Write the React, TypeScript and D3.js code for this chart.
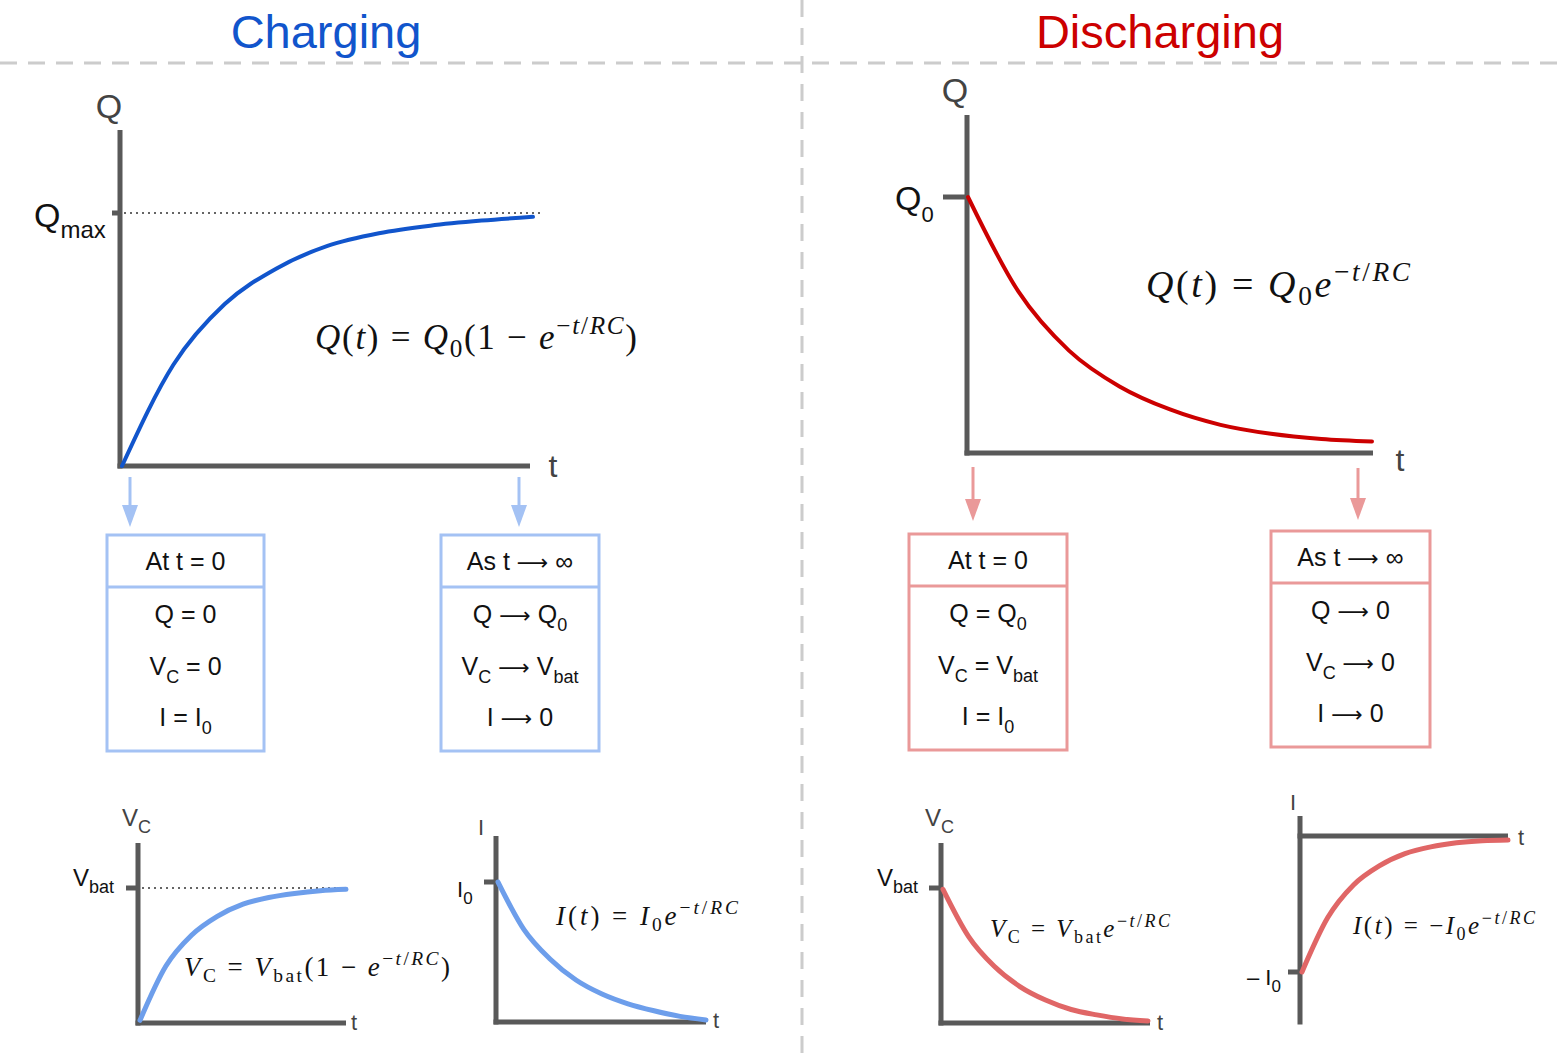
import * as d3 from 'd3';

// sample positions along each t axis (fraction of the drawn curve)
const tSteps = [0, 0.125, 0.25, 0.375, 0.5, 0.625, 0.75, 0.875, 1];

// values, normalised to the tick level
const chargeMain = [0, 0.40, 0.64, 0.78, 0.87, 0.92, 0.95, 0.97, 0.985];
const dischargeMain = [1, 0.63, 0.40, 0.26, 0.17, 0.11, 0.075, 0.055, 0.045];
const chargeVc = [0.02, 0.42, 0.65, 0.79, 0.88, 0.93, 0.96, 0.98, 0.99];
const chargeI = [1, 0.66, 0.45, 0.30, 0.20, 0.13, 0.08, 0.04, 0.015];
const dischargeVc = [0.99, 0.64, 0.42, 0.27, 0.17, 0.10, 0.06, 0.03, 0.015];
const dischargeI = [-1, -0.60, -0.36, -0.22, -0.13, -0.08, -0.05, -0.035, -0.03];

const boxTitles = ['At t = 0', 'As t \u2192 \u221e'];
const SANS = 'Liberation Sans, Arial, sans-serif';
const SERIF = 'Liberation Serif, Times New Roman, serif';
const AXIS = '#595959';
const ARROW = '\u27f6';

type Seg = [string, string?]; // text, flags: i italic, b sub, p sup

function Formula({ x, y, size, segs, w }: { x: number; y: number; size: number; segs: Seg[]; w: number }) {
  let level = 0;
  const small = size * 0.72;
  return (
    <text x={x} y={y} fontFamily={SERIF} fontSize={size} fill="#111" textLength={w} lengthAdjust="spacing">
      {segs.map(([t, f = ''], i) => {
        const want = f.includes('b') ? size * 0.22 : f.includes('p') ? -size * 0.42 : 0;
        const dy = want - level;
        level = want;
        return (
          <tspan key={i} dy={dy} fontStyle={f.includes('i') ? 'italic' : 'normal'}
            fontSize={f.includes('b') || f.includes('p') ? small : size}>{t}</tspan>
        );
      })}
    </text>
  );
}

// label with subscript, e.g. V_C
function SubLabel({ x, y, main, sub, size, subSize, fill = '#111', dy = 0.3 }:
  { x: number; y: number; main: string; sub?: string; size: number; subSize?: number; fill?: string; dy?: number }) {
  return (
    <text x={x} y={y} fontFamily={SANS} fontSize={size} fill={fill}>
      <tspan>{main}</tspan>
      {sub && <tspan fontSize={subSize ?? size * 0.7} dy={size * dy}>{sub}</tspan>}
    </text>
  );
}

interface ChartProps {
  ox: number; oy: number; top: number; right: number; axisY: number;
  levelY: number; zeroY: number; tickX: number; curveX0: number; curveX1: number;
  values: number[]; color: string; width: number; lo: number; hi: number;
  dotted?: boolean; dotEnd?: number; axisW: number;
}

function Chart(p: ChartProps) {
  const x = d3.scaleLinear().domain([0, 1]).range([p.curveX0, p.curveX1]);
  const y = d3.scaleLinear().domain([p.lo, p.hi]).range(p.lo < 0 ? [p.levelY, p.zeroY] : [p.zeroY, p.levelY]);
  const line = d3.line<number>().x((_, i) => x(tSteps[i])).y(d => y(d)).curve(d3.curveMonotoneX);
  const levelVal = p.lo < 0 ? -1 : 1;
  return (
    <g>
      {p.dotted && (
        <line x1={p.ox + 4} x2={p.dotEnd} y1={y(levelVal)} y2={y(levelVal)} stroke="#333" strokeWidth={1.3} strokeDasharray="2 4" />
      )}
      <line x1={p.ox} x2={p.ox} y1={p.top} y2={p.oy + p.axisW / 2} stroke={AXIS} strokeWidth={p.axisW} />
      <line x1={p.ox - p.axisW / 2} x2={p.right} y1={p.axisY} y2={p.axisY} stroke={AXIS} strokeWidth={p.axisW} />
      <line x1={p.tickX} x2={p.ox} y1={y(levelVal)} y2={y(levelVal)} stroke={AXIS} strokeWidth={p.axisW} />
      <path d={line(p.values) ?? ''} fill="none" stroke={p.color} strokeWidth={p.width} strokeLinecap="round" />
    </g>
  );
}

function Arrow({ x, y0, y1, color }: { x: number; y0: number; y1: number; color: string }) {
  const head = 22;
  return (
    <g>
      <line x1={x} x2={x} y1={y0} y2={y1 - head + 2} stroke={color} strokeWidth={3} />
      <path d={`M${x - 8},${y1 - head} L${x + 8},${y1 - head} L${x},${y1} Z`} fill={color} />
    </g>
  );
}

// splits a string so the arrow glyph gets a thin math-style font
function withArrows(s: string) {
  return s.split(ARROW).flatMap((part, i) =>
    i === 0 ? [<tspan key={`p${i}`}>{part}</tspan>]
      : [<tspan key={`a${i}`} fontFamily="DejaVu Sans" fontSize={22}>{ARROW}</tspan>, <tspan key={`p${i}`}>{part}</tspan>]);
}

function Box({ x, y, w, h, div, color, title, lines }: {
  x: number; y: number; w: number; h: number; div: number; color: string; title: string;
  lines: { main: string; sub?: string; rest?: string; sub2?: string }[];
}) {
  const cx = x + w / 2;
  return (
    <g>
      <rect x={x} y={y} width={w} height={h} fill="none" stroke={color} strokeWidth={3} />
      <line x1={x} x2={x + w} y1={y + div} y2={y + div} stroke={color} strokeWidth={3} />
      <text x={cx} y={y + div / 2 + 9} textAnchor="middle" fontFamily={SANS} fontSize={25} fill="#111">
        {withArrows(title.replace('\u2192', ARROW))}
      </text>
      {lines.map((l, i) => (
        <text key={i} x={cx} y={y + div + 36 + i * 51.5} textAnchor="middle" fontFamily={SANS} fontSize={25} fill="#111">
          {withArrows(l.main)}
          {l.sub && <tspan fontSize={18} dy={8}>{l.sub}</tspan>}
          {l.rest && <tspan dy={l.sub ? -8 : 0}>{withArrows(l.rest)}</tspan>}
          {l.sub2 && <tspan fontSize={18} dy={8}>{l.sub2}</tspan>}
        </text>
      ))}
    </g>
  );
}

export default function App() {
  const blue = '#1155cc', blueLight = '#6d9eeb', bluePale = '#a4c2f4';
  const red = '#cc0000', redLight = '#e06666', redPale = '#ea9999';
  const sup: Seg[] = [['\u2212', 'p'], ['t', 'pi'], ['/', 'p'], ['RC', 'pi']];
  return (
    <svg width={1561} height={1060} style={{ position: 'absolute', left: 0, top: 0, background: '#fff' }}>
      {/* dividers */}
      <line x1={0} x2={1561} y1={63} y2={63} stroke="#cccccc" strokeWidth={3} strokeDasharray="17 11" />
      <line x1={802} x2={802} y1={0} y2={1060} stroke="#cccccc" strokeWidth={3} strokeDasharray="17 11" />

      <text x={326} y={48} textAnchor="middle" fontFamily={SANS} fontSize={47} fill={blue}>Charging</text>
      <text x={1160} y={48} textAnchor="middle" fontFamily={SANS} fontSize={47} fill={red}>Discharging</text>

      {/* main charging */}
      <Chart ox={120} oy={466} top={130} right={530} axisY={466} levelY={213} zeroY={466} tickX={112}
        curveX0={122} curveX1={533} values={chargeMain} color={blue} width={4} lo={0} hi={1}
        dotted dotEnd={540} axisW={5} />
      <text x={109} y={118} textAnchor="middle" fontFamily={SANS} fontSize={34} fill="#434343">Q</text>
      <SubLabel x={34} y={227} main="Q" sub="max" size={34} subSize={24} dy={0.33} />
      <text x={553} y={477} textAnchor="middle" fontFamily={SANS} fontSize={32} fill="#434343">t</text>
      <Formula x={315} y={349} size={35} w={322} segs={[
        ['Q', 'i'], ['('], ['t', 'i'], [') = '], ['Q', 'i'], ['0', 'b'], ['(1 \u2212 '], ['e', 'i'], ...sup, [')'],
      ]} />

      {/* main discharging */}
      <Chart ox={967} oy={453} top={115} right={1373} axisY={453} levelY={197} zeroY={453} tickX={943}
        curveX0={968} curveX1={1372} values={dischargeMain} color={red} width={4} lo={0} hi={1} axisW={5} />
      <text x={955} y={102} textAnchor="middle" fontFamily={SANS} fontSize={34} fill="#434343">Q</text>
      <SubLabel x={895} y={210} main="Q" sub="0" size={34} subSize={22} dy={0.35} />
      <text x={1400} y={471} textAnchor="middle" fontFamily={SANS} fontSize={32} fill="#434343">t</text>
      <Formula x={1146} y={297} size={38} w={264} segs={[
        ['Q', 'i'], ['('], ['t', 'i'], [') = '], ['Q', 'i'], ['0', 'b'], ['e', 'i'], ...sup,
      ]} />

      {/* arrows and boxes */}
      <Arrow x={130} y0={477} y1={527} color={bluePale} />
      <Arrow x={519} y0={477} y1={527} color={bluePale} />
      <Arrow x={973} y0={467} y1={521} color={redPale} />
      <Arrow x={1358} y0={468} y1={520} color={redPale} />

      <Box x={107} y={535} w={157} h={216} div={52} color={bluePale} title={boxTitles[0]} lines={[
        { main: 'Q = 0' }, { main: 'V', sub: 'C', rest: ' = 0' }, { main: 'I = I', sub: '0' },
      ]} />
      <Box x={441} y={535} w={158} h={216} div={52} color={bluePale} title={boxTitles[1]} lines={[
        { main: `Q ${ARROW} Q`, sub: '0' }, { main: 'V', sub: 'C', rest: ` ${ARROW} V`, sub2: 'bat' }, { main: `I ${ARROW} 0` },
      ]} />
      <Box x={909} y={534} w={158} h={216} div={52} color={redPale} title={boxTitles[0]} lines={[
        { main: 'Q = Q', sub: '0' }, { main: 'V', sub: 'C', rest: ' = V', sub2: 'bat' }, { main: 'I = I', sub: '0' },
      ]} />
      <Box x={1271} y={531} w={159} h={216} div={52} color={redPale} title={boxTitles[1]} lines={[
        { main: `Q ${ARROW} 0` }, { main: 'V', sub: 'C', rest: ` ${ARROW} 0` }, { main: `I ${ARROW} 0` },
      ]} />

      {/* small charging Vc */}
      <Chart ox={138} oy={1023} top={843} right={346} axisY={1023} levelY={888} zeroY={1023} tickX={126}
        curveX0={140} curveX1={346} values={chargeVc} color={blueLight} width={5} lo={0} hi={1}
        dotted dotEnd={345} axisW={5} />
      <SubLabel x={122} y={826} main="V" sub="C" size={24} subSize={18} fill="#434343" />
      <SubLabel x={73} y={886} main="V" sub="bat" size={24} subSize={18} />
      <text x={354} y={1030} textAnchor="middle" fontFamily={SANS} fontSize={22} fill="#434343">t</text>
      <Formula x={184} y={976} size={27} w={266} segs={[
        ['V', 'i'], ['C', 'b'], [' = '], ['V', 'i'], ['bat', 'b'], ['(1 \u2212 '], ['e', 'i'], ...sup, [')'],
      ]} />

      {/* small charging I */}
      <Chart ox={496} oy={1022} top={836} right={706} axisY={1022} levelY={882} zeroY={1022} tickX={484}
        curveX0={498} curveX1={706} values={chargeI} color={blueLight} width={5} lo={0} hi={1} axisW={5} />
      <text x={481} y={835} textAnchor="middle" fontFamily={SANS} fontSize={22} fill="#434343">I</text>
      <SubLabel x={457} y={897} main="I" sub="0" size={22} subSize={17} />
      <text x={716} y={1028} textAnchor="middle" fontFamily={SANS} fontSize={22} fill="#434343">t</text>
      <Formula x={556} y={925} size={27} w={182} segs={[
        ['I', 'i'], ['('], ['t', 'i'], [') = '], ['I', 'i'], ['0', 'b'], ['e', 'i'], ...sup,
      ]} />

      {/* small discharging Vc */}
      <Chart ox={941} oy={1023} top={843} right={1150} axisY={1023} levelY={888} zeroY={1023} tickX={929}
        curveX0={943} curveX1={1148} values={dischargeVc} color={redLight} width={5} lo={0} hi={1} axisW={5} />
      <SubLabel x={925} y={826} main="V" sub="C" size={24} subSize={18} fill="#434343" />
      <SubLabel x={877} y={886} main="V" sub="bat" size={24} subSize={18} />
      <text x={1160} y={1030} textAnchor="middle" fontFamily={SANS} fontSize={22} fill="#434343">t</text>
      <Formula x={990} y={937} size={25} w={180} segs={[
        ['V', 'i'], ['C', 'b'], [' = '], ['V', 'i'], ['bat', 'b'], ['e', 'i'], ...sup,
      ]} />

      {/* small discharging I */}
      <Chart ox={1300} oy={1022} top={816} right={1508} axisY={836} levelY={972} zeroY={836} tickX={1288}
        curveX0={1302} curveX1={1508} values={dischargeI} color={redLight} width={5} lo={-1} hi={0} axisW={5} />
      <text x={1293} y={810} textAnchor="middle" fontFamily={SANS} fontSize={22} fill="#434343">I</text>
      <SubLabel x={1247} y={985} main={'\u2013 I'} sub="0" size={22} subSize={17} />
      <text x={1521} y={845} textAnchor="middle" fontFamily={SANS} fontSize={22} fill="#434343">t</text>
      <Formula x={1353} y={934} size={25} w={182} segs={[
        ['I', 'i'], ['('], ['t', 'i'], [') = \u2212'], ['I', 'i'], ['0', 'b'], ['e', 'i'], ...sup,
      ]} />
    </svg>
  );
}
